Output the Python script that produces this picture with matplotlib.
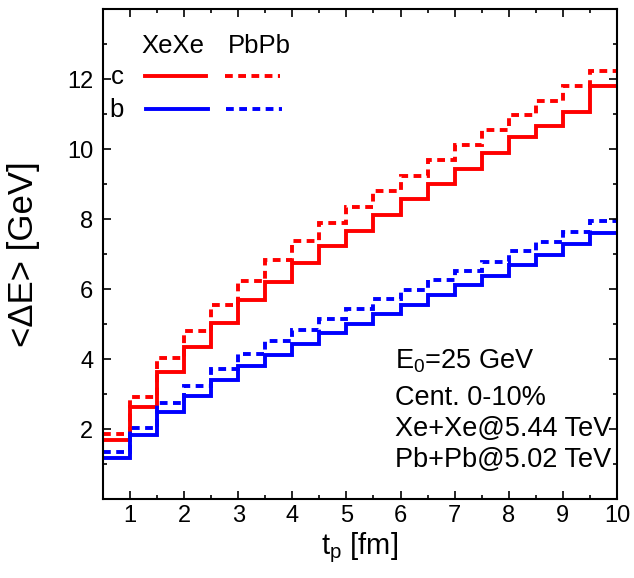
import numpy as np
import matplotlib
matplotlib.use("Agg")
import matplotlib.pyplot as plt

plt.rcParams['font.family'] = ['Liberation Sans', 'DejaVu Sans']
plt.rcParams['mathtext.fontset'] = 'custom'
plt.rcParams['mathtext.rm'] = 'Liberation Sans'
plt.rcParams['mathtext.it'] = 'Liberation Sans:italic'

# step edges in t_p [fm]
tp_edges = np.arange(0.5, 10.01, 0.5)

# <dE> [GeV] on each step
c_xexe = [1.68, 2.64, 3.62, 4.34, 5.04, 5.68, 6.21, 6.75, 7.24, 7.67,
          8.12, 8.57, 9.02, 9.45, 9.88, 10.35, 10.68, 11.08, 11.82]
c_pbpb = [1.87, 2.93, 4.04, 4.80, 5.56, 6.24, 6.82, 7.38, 7.90, 8.36,
          8.81, 9.25, 9.68, 10.11, 10.54, 10.99, 11.38, 11.81, 12.25]
b_xexe = [1.17, 1.82, 2.48, 2.94, 3.40, 3.79, 4.12, 4.43, 4.74, 5.01,
          5.28, 5.55, 5.84, 6.12, 6.39, 6.68, 6.98, 7.28, 7.62]
b_pbpb = [1.33, 2.04, 2.75, 3.24, 3.72, 4.16, 4.52, 4.84, 5.15, 5.43,
          5.71, 5.97, 6.25, 6.51, 6.77, 7.08, 7.34, 7.64, 7.95]

red = '#ff0000'
blue = '#0000ff'
lw = 2.8
dash = (2.0, 1.4)

fig = plt.figure(figsize=(6.34, 5.78), dpi=100)
ax = fig.add_axes([0.1625, 0.1367, 0.8105, 0.847])

ax.stairs(c_xexe, tp_edges, color=red, lw=lw, baseline=None)
ax.stairs(c_pbpb, tp_edges, color=red, lw=lw, baseline=None, linestyle=(0, dash))
ax.stairs(b_xexe, tp_edges, color=blue, lw=lw, baseline=None)
ax.stairs(b_pbpb, tp_edges, color=blue, lw=lw, baseline=None, linestyle=(0, dash))

ax.set_xlim(0.5, 10)
ax.set_ylim(0, 14)
ax.set_xticks(np.arange(1, 11, 1))
ax.set_xticks(np.arange(0.5, 10.01, 0.5), minor=True)
ax.set_yticks(np.arange(2, 13, 2))
ax.set_yticks(np.arange(1, 14, 2), minor=True)

for s in ax.spines.values():
    s.set_linewidth(1.5)
ax.tick_params(which='both', direction='in', top=True, right=True, width=1.2)
ax.tick_params(which='major', length=6, labelsize=17)
ax.tick_params(which='minor', length=3)
ax.tick_params(axis='x', pad=4)
ax.tick_params(axis='y', pad=7)

ax.set_xlabel(r't$_\mathregular{p}$ [fm]', fontsize=21)
ax.set_ylabel('<ΔE> [GeV]', fontsize=25)
ax.xaxis.set_label_coords(0.5, -0.065)
ax.yaxis.set_label_coords(-0.122, 0.5)

# legend built by hand
tr = ax.transAxes
fs = 18.5
ax.text(0.136, 0.925, 'XeXe', transform=tr, fontsize=fs, ha='center', va='center')
ax.text(0.305, 0.925, 'PbPb', transform=tr, fontsize=fs, ha='center', va='center')
ax.text(0.027, 0.862, 'c', transform=tr, fontsize=fs, ha='center', va='center')
ax.text(0.027, 0.795, 'b', transform=tr, fontsize=fs, ha='center', va='center')
ax.plot([0.082, 0.200], [0.864, 0.864], transform=tr, color=red, lw=lw)
ax.plot([0.237, 0.345], [0.864, 0.864], transform=tr, color=red, lw=lw, linestyle=(0, dash))
ax.plot([0.084, 0.204], [0.797, 0.797], transform=tr, color=blue, lw=lw)
ax.plot([0.240, 0.348], [0.797, 0.797], transform=tr, color=blue, lw=lw, linestyle=(0, dash))

notes = [r'E$_\mathregular{0}$=25 GeV', 'Cent. 0-10%', 'Xe+Xe@5.44 TeV', 'Pb+Pb@5.02 TeV']
note_y = [0.282, 0.206, 0.143, 0.080]
for t, yy in zip(notes, note_y):
    ax.text(0.568, yy, t, transform=tr, fontsize=19.5, ha='left', va='center')

fig.savefig('out.png', dpi=100)
